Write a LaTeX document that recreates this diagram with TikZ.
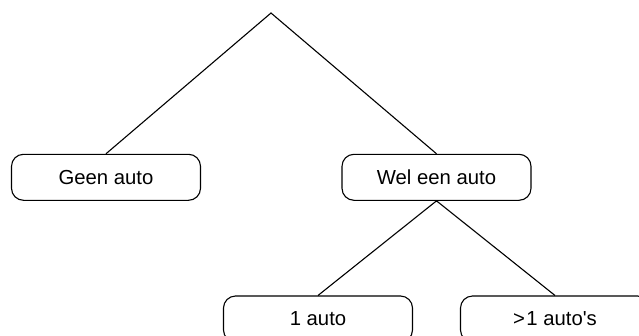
\documentclass[tikz,border=0pt]{standalone}
\usepackage{fontspec}
\setmainfont{Liberation Sans}
\begin{document}
\begin{tikzpicture}[x=1pt,y=-1pt,
  box/.style={draw,line width=1.1pt,rounded corners=12pt,minimum width=189pt,minimum height=46pt,inner sep=0pt,font=\fontsize{20.3}{23}\selectfont},
  link/.style={line width=1.1pt}]
\useasboundingbox (0,0) rectangle (639,335);
\clip (0,0) rectangle (639,335);
\coordinate (top) at (271,13);
\node[box] (geen) at (106,177.3) {Geen auto};
\node[box] (wel) at (436.5,177.3) {Wel een auto};
\node[box] (een) at (318,319) {1 auto};
\node[box] (meer) at (555,319) {>\hspace{1.5pt}1 auto\textquotesingle s};
\draw[link] (geen.north) -- (top) -- (wel.north);
\draw[link] (een.north) -- (wel.south) -- (meer.north);
\end{tikzpicture}
\end{document}
